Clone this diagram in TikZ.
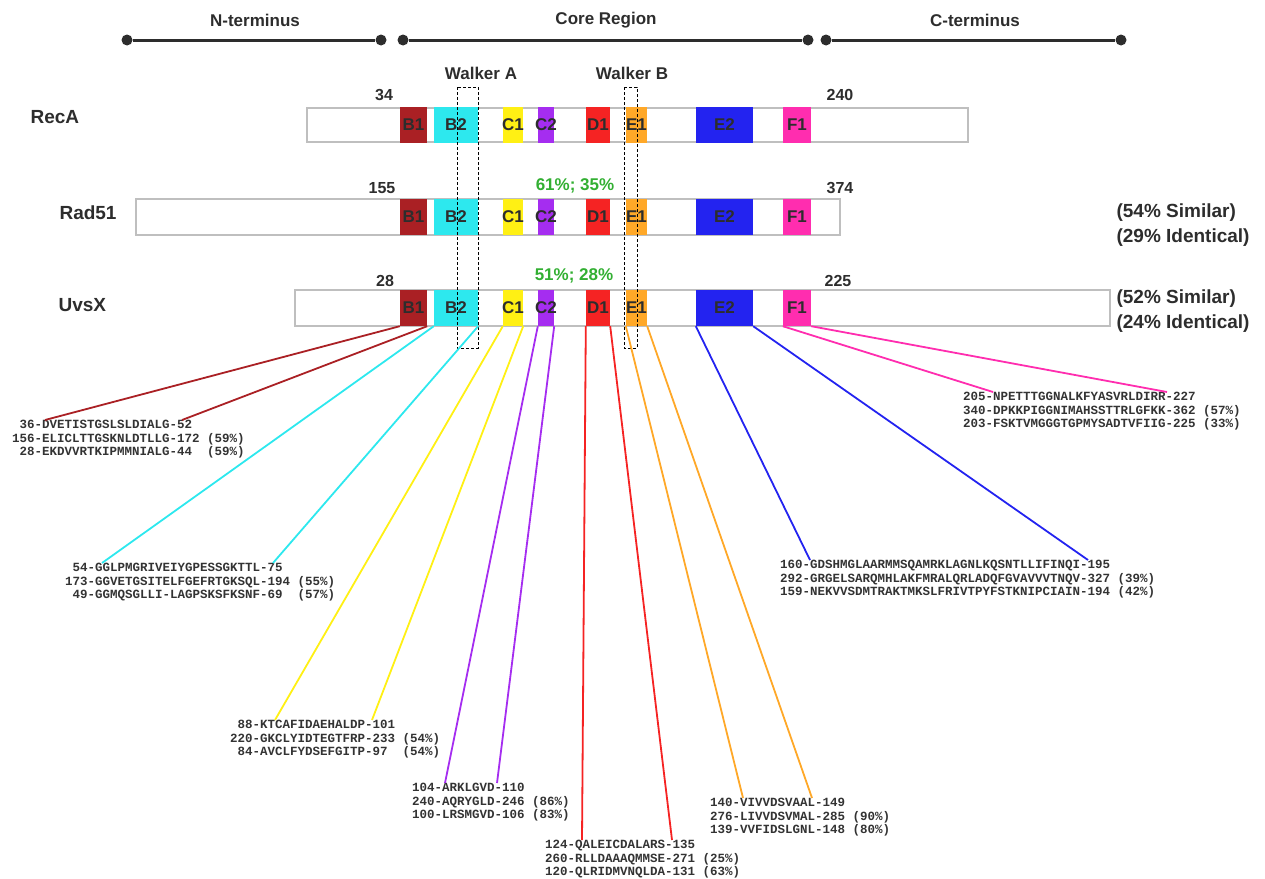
\documentclass[tikz,border=0pt]{standalone}
\usepackage{fontspec}
\setmainfont{Liberation Sans}
\setmonofont{Liberation Mono}
\usepackage{tikz}
\usepackage{xcolor}

\definecolor{cB1}{RGB}{170,32,36}
\definecolor{cB2}{RGB}{45,232,238}
\definecolor{cC1}{RGB}{255,240,20}
\definecolor{cC2}{RGB}{165,45,240}
\definecolor{cD1}{RGB}{245,35,35}
\definecolor{cE1}{RGB}{255,168,40}
\definecolor{cE2}{RGB}{35,35,240}
\definecolor{cF1}{RGB}{255,45,175}
\definecolor{verde}{RGB}{50,175,50}
\definecolor{gris}{RGB}{45,45,45}

\tikzset{
  punto/.style={circle, fill=gris, inner sep=0pt, minimum size=11pt},
  titulo/.style={font=\fontsize{17}{17}\selectfont\bfseries, text=gris},
  proteina/.style={font=\fontsize{19}{19}\selectfont\bfseries, text=gris, anchor=west},
  barra/.style={draw=black!25, line width=1.2pt, fill=white},
  caja/.style={inner sep=0pt, minimum height=36pt, font=\fontsize{17}{17}\selectfont\bfseries, text=gris},
  num/.style={font=\fontsize{16}{16}\selectfont\bfseries, text=gris},
  pct/.style={font=\fontsize{17}{17}\selectfont\bfseries, text=verde},
  lado/.style={font=\fontsize{19}{25}\selectfont\bfseries, text=gris, align=left, anchor=west},
  walker/.style={draw=black, densely dashed, line width=0.6pt},
  secuencia/.style={font=\ttfamily\bfseries\fontsize{12.5}{13.5}\selectfont, text=black!80, align=left, anchor=north west, inner sep=0pt},
  con/.style={line width=1.8pt}
}

\begin{document}
\begin{tikzpicture}[x=1pt, y=-1pt]
\useasboundingbox (0,0) rectangle (1265,878);

%Regiones
\node[punto] (n1) at (127,40) {};
\node[punto] (n2) at (381,40) {};
\node[punto] (c1) at (403,40) {};
\node[punto] (c2) at (808,40) {};
\node[punto] (t1) at (826,40) {};
\node[punto] (t2) at (1121,40) {};
\draw[gris, line width=3pt] (n1)--(n2);
\draw[gris, line width=3pt] (c1)--(c2);
\draw[gris, line width=3pt] (t1)--(t2);
\node[titulo] (tN) at (255,20) {N-terminus};
\node[titulo] (tCore) at (606,20) {Core Region};
\node[titulo] (tC) at (975,20) {C-terminus};

%Barras
\draw[barra] (307,108) rectangle (968,142);
\draw[barra] (136,199) rectangle (840,235);
\draw[barra] (295,290) rectangle (1110,326);
\node[proteina] (recA) at (27,117) {RecA};
\node[proteina] (rad51) at (56,213) {Rad51};
\node[proteina] (uvsX) at (55,305) {UvsX};

%Motivos
\foreach \r/\y in {r/125, d/217, u/308}{
  \foreach \n/\a/\b in {B1/400/427, B2/434/478, C1/503/523, C2/538/554, D1/586/610, E1/626/647, E2/696/753, F1/783/811}{
    \node[caja, fill=c\n, minimum width={(\b-\a)*1pt}] (\r\n) at ({(\a+\b)/2},\y) {\makebox[0pt]{\n}};
  }
}

%Walker
\draw[walker] (457,87) rectangle (478,348);
\draw[walker] (624,87) rectangle (637,348);
\node[titulo] (wA) at (481,73) {Walker A};
\node[titulo] (wB) at (632,73) {Walker B};

%Numeros
\node[num] (r34) at (384,95) {34};
\node[num] (r240) at (840,95) {240};
\node[num] (d155) at (382,188) {155};
\node[num] (d374) at (840,188) {374};
\node[num] (u28) at (385,281) {28};
\node[num] (u225) at (838,281) {225};
\node[pct] (dpct) at (575,186) {61\%; 35\%};
\node[pct] (upct) at (574,276) {51\%; 28\%};
\node[lado] (dsim) at (1113,225) {(54\% Similar)\\(29\% Identical)};
\node[lado] (usim) at (1113,311) {(52\% Similar)\\(24\% Identical)};

%Secuencias
\node[secuencia] (sB1) at (12,420) {\phantom{0}36-DVETISTGSLSLDIALG-52\\156-ELICLTTGSKNLDTLLG-172 (59\%)\\\phantom{0}28-EKDVVRTKIPMMNIALG-44\phantom{0} (59\%)};
\node[secuencia] (sB2) at (65,563) {\phantom{0}54-GGLPMGRIVEIYGPESSGKTTL-75\\173-GGVETGSITELFGEFRTGKSQL-194 (55\%)\\\phantom{0}49-GGMQSGLLI-LAGPSKSFKSNF-69\phantom{0} (57\%)};
\node[secuencia] (sC1) at (230,720) {\phantom{0}88-KTCAFIDAEHALDP-101\\220-GKCLYIDTEGTFRP-233 (54\%)\\\phantom{0}84-AVCLFYDSEFGITP-97\phantom{0} (54\%)};
\node[secuencia] (sC2) at (412,783) {104-ARKLGVD-110\\240-AQRYGLD-246 (86\%)\\100-LRSMGVD-106 (83\%)};
\node[secuencia] (sD1) at (545,840) {124-QALEICDALARS-135\\260-RLLDAAAQMMSE-271 (25\%)\\120-QLRIDMVNQLDA-131 (63\%)};
\node[secuencia] (sE1) at (710,798) {140-VIVVDSVAAL-149\\276-LIVVDSVMAL-285 (90\%)\\139-VVFIDSLGNL-148 (80\%)};
\node[secuencia] (sE2) at (780,560) {160-GDSHMGLAARMMSQAMRKLAGNLKQSNTLLIFINQI-195\\292-GRGELSARQMHLAKFMRALQRLADQFGVAVVVTNQV-327 (39\%)\\159-NEKVVSDMTRAKTMKSLFRIVTPYFSTKNIPCIAIN-194 (42\%)};
\node[secuencia] (sF1) at (963,392) {205-NPETTTGGNALKFYASVRLDIRR-227\\340-DPKKPIGGNIMAHSSTTRLGFKK-362 (57\%)\\203-FSKTVMGGGTGPMYSADTVFIIG-225 (33\%)};

%Conectores
\foreach \n/\i/\j in {B1/33/170, B2/37/208, C1/45/142, C2/33/85, D1/37/127, E1/33/102, E2/30/308, F1/30/204}{
  \draw[con, c\n] (u\n.south west) -- ([xshift=\i pt]s\n.north west);
  \draw[con, c\n] (u\n.south east) -- ([xshift=\j pt]s\n.north west);
}
\end{tikzpicture}
\end{document}
